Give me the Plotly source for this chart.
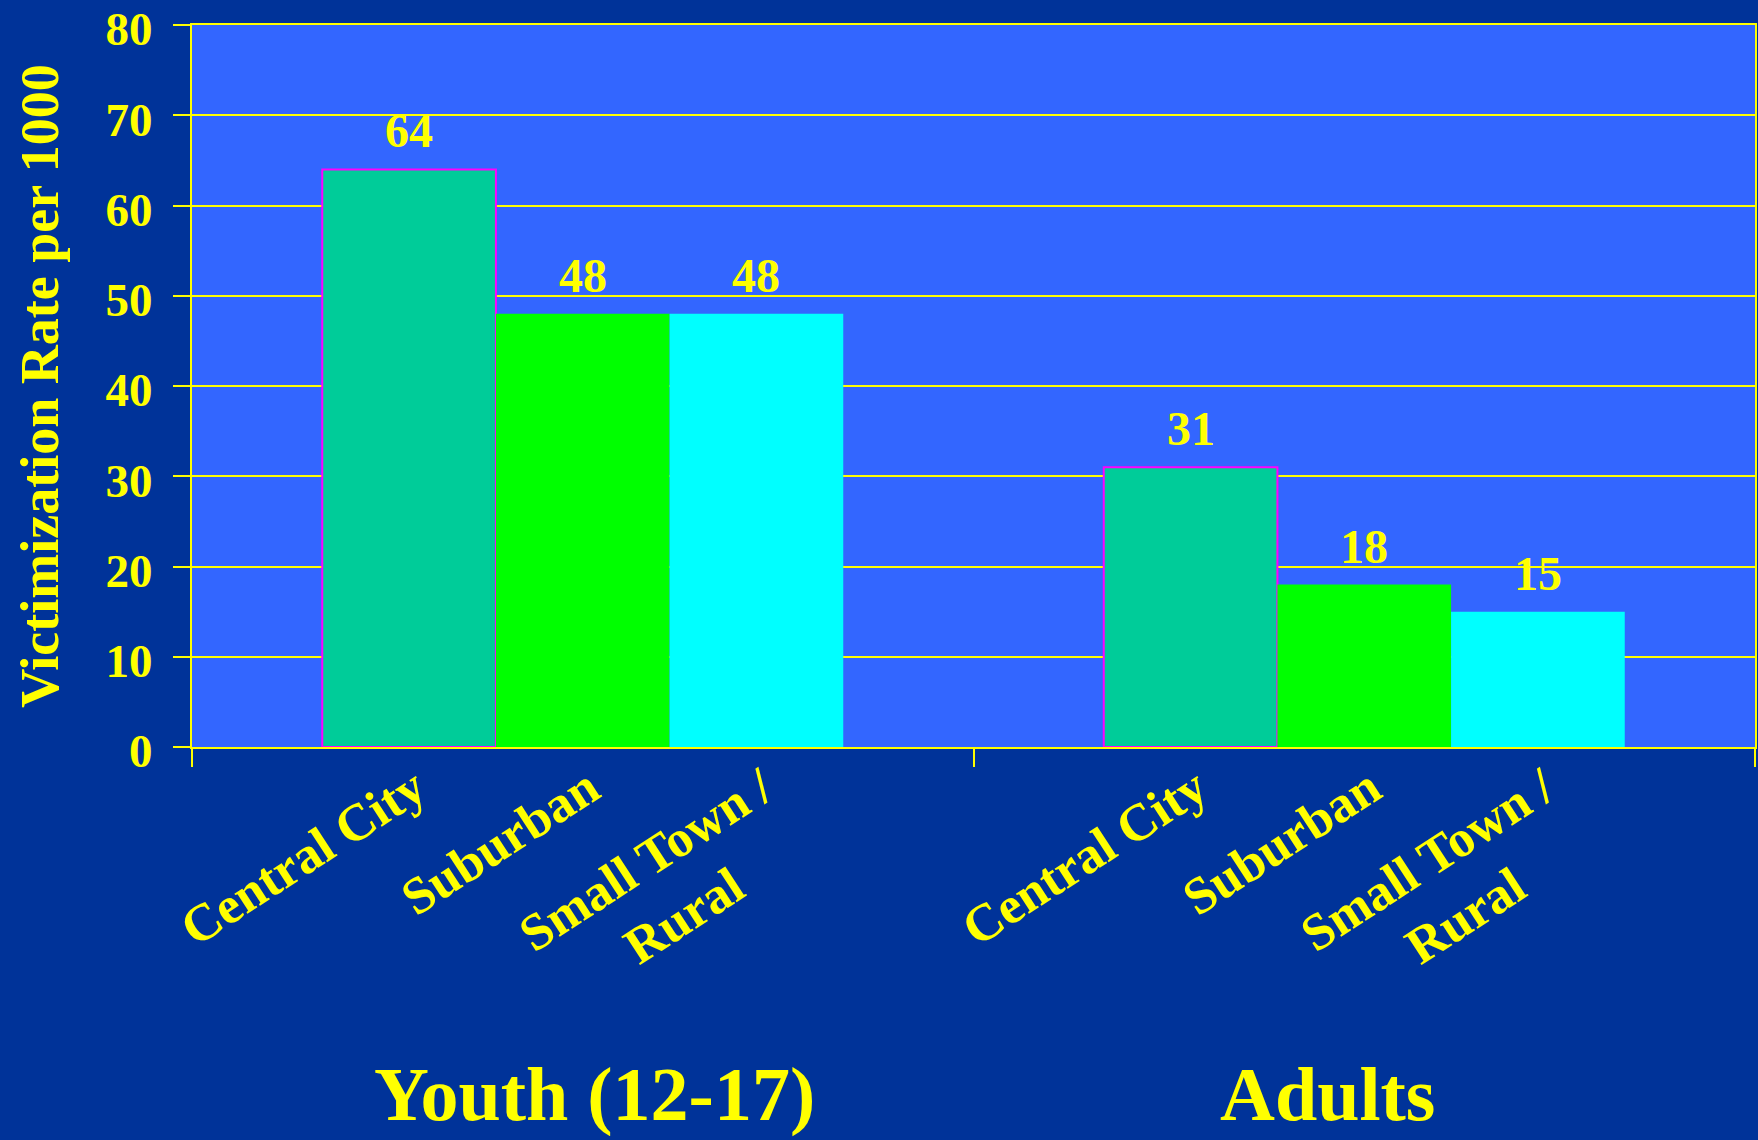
import plotly.graph_objects as go

groups = ["Youth (12-17)", "Adults"]
areas = ["Central City", "Suburban", "Small Town /<br>Rural" + "&nbsp;" * 6]
series_names = ["Central City", "Suburban", "Small Town / Rural"]
central_city = [64, 31]
suburban = [48, 18]
small_town_rural = [48, 15]
values = [central_city, suburban, small_town_rural]

y_ticks = [0, 10, 20, 30, 40, 50, 60, 70, 80]
y_title = "Victimization Rate per 1000"

colors = ["#00CC99", "#00FF00", "#00FFFF"]
outline = ["#FF00FF", "rgba(0,0,0,0)", "rgba(0,0,0,0)"]
group_label_xshift = [12, -37]
YEL = "#FFFF00"
FONT = "Liberation Serif, Times New Roman, serif"

BARGAP = 1 / 3
n = len(values)
bar_w = (1 - BARGAP) / n

fig = go.Figure()
for i, (name, vals) in enumerate(zip(series_names, values)):
    fig.add_trace(go.Bar(
        x=groups, y=vals, name=name,
        marker=dict(color=colors[i], line=dict(color=outline[i], width=2 if i == 0 else 0)),
        showlegend=False, hoverinfo="skip",
    ))

# bar centre positions on a numeric overlay axis
centers, labels = [], []
for g in range(len(groups)):
    for i in range(n):
        centers.append(g + (i - (n - 1) / 2) * bar_w)
        labels.append(areas[i])

# invisible helper trace to activate xaxis2
fig.add_trace(go.Scatter(x=[-0.5, 1.5], y=[0, 0], xaxis="x2", mode="markers",
                         marker=dict(opacity=0), showlegend=False, hoverinfo="skip"))

# value labels
for g in range(len(groups)):
    for i in range(n):
        fig.add_annotation(
            x=g + (i - (n - 1) / 2) * bar_w, y=values[i][g], xref="x2", yref="y",
            text=str(values[i][g]), showarrow=False, yanchor="bottom", yshift=10,
            font=dict(family=FONT, size=48, color=YEL, weight="bold"),
        )

# group titles
for g, name in enumerate(groups):
    fig.add_annotation(
        x=name, y=0, xref="x", yref="paper", text=name, showarrow=False,
        yanchor="top", xanchor="center", yshift=-303, xshift=group_label_xshift[g],
        font=dict(family=FONT, size=76, color=YEL, weight="bold"),
    )

fig.update_layout(
    width=1758, height=1140,
    margin=dict(l=192, r=3, t=25, b=393, autoexpand=False),
    paper_bgcolor="#003399", plot_bgcolor="#3366FF",
    barmode="group", bargap=BARGAP, bargroupgap=0,
    font=dict(family=FONT, color=YEL, weight="bold"),
    xaxis=dict(
        type="category", tickson="boundaries", ticks="outside", ticklen=18,
        tickwidth=2, tickcolor=YEL, showline=True, mirror=True, linecolor=YEL, linewidth=2,
        showgrid=False, showticklabels=False, automargin=False, range=[-0.5, 1.5],
    ),
    xaxis2=dict(
        overlaying="x", anchor="y", side="bottom", range=[-0.5, 1.5],
        tickmode="array", tickvals=centers, ticktext=labels, tickangle=-33,
        ticks="", showgrid=False, showline=False, zeroline=False,
        tickfont=dict(family=FONT, size=52, color=YEL, weight="bold"),
        ticklabelshift=6, automargin=False,
    ),
    yaxis=dict(
        range=[0, 80], tickmode="array", tickvals=y_ticks, ticks="outside",
        ticklen=17, tickwidth=2, tickcolor=YEL, showline=True, mirror=True,
        linecolor=YEL, linewidth=2, showgrid=True, gridcolor=YEL, gridwidth=2,
        zeroline=False, tickfont=dict(family=FONT, size=47, color=YEL, weight="bold"),
        ticklabelstandoff=11, ticklabelshift=4, ticklabeloverflow="allow",
        title=dict(text=y_title, font=dict(family=FONT, size=54, color=YEL, weight="bold"),
                   standoff=30),
        automargin=False,
    ),
)

fig.write_html("out.html")
